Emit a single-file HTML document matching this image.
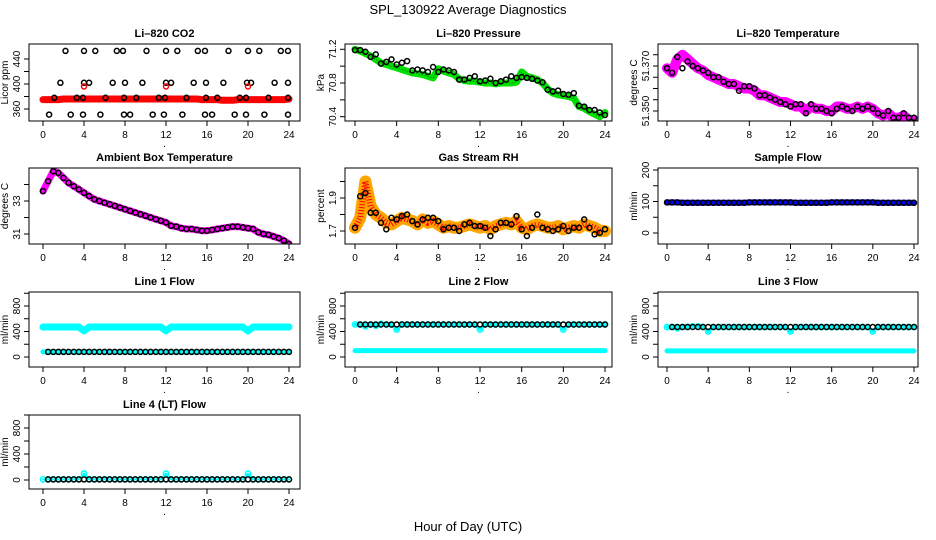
<!DOCTYPE html>
<html><head><meta charset="utf-8">
<style>
body{margin:0;background:#fff;}
svg{display:block;font-family:"Liberation Sans",sans-serif;}
.t{font-weight:bold;font-size:11px;text-anchor:middle;}
.tk{font-size:10px;text-anchor:middle;}
</style></head><body>
<svg id="c" width="936" height="540" viewBox="0 0 936 540">
<text x="468" y="14" font-size="13" text-anchor="middle">SPL_130922  Average Diagnostics</text>
<text x="468" y="531" font-size="13" text-anchor="middle">Hour of Day (UTC)</text>
</svg>
<script>
// shared half-hour time grid
const hours=[0,0.5,1,1.5,2,2.5,3,3.5,4,4.5,5,5.5,6,6.5,7,7.5,8,8.5,9,9.5,10,10.5,11,11.5,12,12.5,13,13.5,14,14.5,15,15.5,16,16.5,17,17.5,18,18.5,19,19.5,20,20.5,21,21.5,22,22.5,23,23.5,24];
const xTicks=[0,4,8,12,16,20,24];
// CO2
const co2Band=[375,375,375,375,376,376,376,376,376,376,376,376,376,376,376,376,376,376,376,376,376,376,376,376,376,376,376,376,376,376,376,375,375,375,375,374,374,374,375,375,375,375,375,375,375,375,375,375,376];
const co2BlackT=[2.2,4,5.1,7.2,7.8,10.1,12,13.1,15.1,15.8,18.1,20,21.1,23.2,23.9,1.7,4,4.5,6.8,8,9.7,12,12.5,14.7,15.9,17.6,19.9,20.3,22.6,23.9,1.1,3.3,3.9,6.1,7.9,9.1,11.3,11.9,14,15.9,17,19.2,19.8,22,23.9,0.6,2.7,3.9,5.6,7.9,8.5,10.7,11.8,13.6,15.8,16.5,18.7,19.8,21.6,23.9];
const co2BlackV=[453,453,453,453,453,453,453,453,453,453,453,453,453,453,453,402,402,402,402,402,402,402,402,402,402,402,402,402,402,402,378,378,378,378,378,378,378,378,378,378,378,378,378,378,378,351,351,351,351,351,351,351,351,351,351,351,351,351,351,351];
const co2RedT=[4,12,20];
const co2RedV=[396,396,396];
// Pressure
const presBand=[71.2,71.18,71.15,71.12,71.08,71.04,71.02,71.0,70.98,70.96,70.94,70.92,70.91,70.9,70.88,70.86,70.97,70.94,70.92,70.9,70.85,70.83,70.82,70.82,70.81,70.8,70.8,70.79,70.8,70.8,70.8,70.81,70.93,70.88,70.86,70.84,70.8,70.73,70.68,70.66,70.65,70.64,70.62,70.52,70.5,70.46,70.43,70.4,70.45];
const presBlack=[71.19,71.19,71.17,71.11,71.14,71.03,71.05,71.08,71.02,71.04,71.06,70.95,70.96,70.95,70.93,70.99,70.93,70.96,70.95,70.93,70.84,70.84,70.86,70.88,70.82,70.83,70.85,70.8,70.82,70.84,70.88,70.86,70.87,70.86,70.85,70.83,70.81,70.72,70.7,70.71,70.67,70.66,70.68,70.53,70.52,70.48,70.48,70.45,70.42];
// Li-820 temperature
const tempBand=[51.369,51.367,51.373,51.375,51.373,51.371,51.369,51.368,51.366,51.365,51.364,51.363,51.362,51.362,51.361,51.36,51.36,51.359,51.357,51.357,51.356,51.355,51.354,51.354,51.353,51.352,51.352,51.35,51.352,51.351,51.351,51.35,51.35,51.352,51.352,51.351,51.351,51.352,51.351,51.352,51.351,51.349,51.348,51.349,51.347,51.347,51.348,51.346,51.346];
const tempBlack=[51.369,51.367,51.374,51.369,51.372,51.370,51.369,51.368,51.367,51.365,51.365,51.363,51.362,51.362,51.359,51.361,51.361,51.360,51.357,51.357,51.356,51.355,51.354,51.353,51.352,51.353,51.353,51.349,51.353,51.351,51.351,51.350,51.349,51.351,51.352,51.351,51.350,51.352,51.351,51.352,51.351,51.349,51.348,51.350,51.347,51.347,51.349,51.347,51.347];
// Ambient
const ambBand=[33.6,34.2,34.8,34.7,34.4,34.1,33.9,33.7,33.5,33.3,33.1,33.0,32.9,32.8,32.7,32.6,32.5,32.4,32.3,32.2,32.1,32.0,31.9,31.8,31.7,31.5,31.45,31.35,31.3,31.3,31.25,31.2,31.2,31.25,31.3,31.35,31.4,31.45,31.45,31.4,31.35,31.3,31.1,31.0,30.95,30.85,30.75,30.6,30.4];
// RH
const rhBand=[1.72,1.78,2.0,1.85,1.8,1.78,1.75,1.74,1.76,1.78,1.77,1.76,1.74,1.77,1.75,1.76,1.74,1.72,1.73,1.72,1.72,1.73,1.74,1.73,1.72,1.73,1.71,1.73,1.74,1.75,1.74,1.76,1.72,1.71,1.73,1.74,1.73,1.72,1.72,1.73,1.71,1.72,1.73,1.72,1.74,1.73,1.72,1.7,1.7];
const rhBlack=[1.72,1.91,1.93,1.81,1.81,1.75,1.71,1.78,1.77,1.79,1.80,1.76,1.74,1.77,1.78,1.78,1.76,1.71,1.72,1.72,1.70,1.74,1.75,1.73,1.73,1.72,1.67,1.71,1.75,1.75,1.74,1.79,1.71,1.67,1.72,1.80,1.72,1.71,1.70,1.71,1.73,1.70,1.72,1.72,1.77,1.72,1.68,1.69,1.71];
// flows
const sampleBand=[97,97,97,96,96,96,96,96,96,96,96,96,96,96,96,96,97,97,97,97,97,97,97,97,97,96,96,96,96,96,96,96,97,97,97,97,97,97,97,97,97,96,96,96,96,96,96,96,96];
const line1Hi=[470,470,470,470,470,470,470,470,410,470,470,470,470,470,470,470,470,470,470,470,470,470,470,470,410,470,470,470,470,470,470,470,470,470,470,470,470,470,470,470,410,470,470,470,470,470,470,470,470];
const line1Lo=[80,80,80,80,80,80,80,80,80,80,80,80,80,80,80,80,80,80,80,80,80,80,80,80,80,80,80,80,80,80,80,80,80,80,80,80,80,80,80,80,80,80,80,80,80,80,80,80,80];
const line2Hi=[510,510,480,510,490,520,510,510,430,510,510,510,510,510,510,510,510,510,510,510,510,510,510,510,430,510,510,510,510,510,510,510,510,510,510,510,510,510,510,510,430,510,510,510,510,510,510,510,510];
const line2Lo=[100,100,100,100,100,100,100,100,100,100,100,100,100,100,100,100,100,100,100,100,100,100,100,100,100,100,100,100,100,100,100,100,100,100,100,100,100,100,100,100,100,100,100,100,100,100,100,100,100];
const line3Hi=[470,470,450,470,470,480,480,470,400,470,470,470,470,470,470,470,470,470,470,470,470,470,470,470,400,470,470,470,470,470,470,470,470,470,470,470,470,470,470,470,400,470,470,470,470,470,470,470,470];
const line3Lo=[95,95,95,95,95,95,95,95,95,95,95,95,95,95,95,95,95,95,95,95,95,95,95,95,95,95,95,95,95,95,95,95,95,95,95,95,95,95,95,95,95,95,95,95,95,95,95,95,95];
const line4Band=[10,10,10,10,10,10,10,10,100,10,10,10,10,10,10,10,10,10,10,10,10,10,10,10,100,10,10,10,10,10,10,10,10,10,10,10,10,10,10,10,100,10,10,10,10,10,10,10,10];
const line4Black=[10,10,10,10,10,10,10,10,10,10,10,10,10,10,10,10,10,10,10,10,10,10,10,10,10,10,10,10,10,10,10,10,10,10,10,10,10,10,10,10,10,10,10,10,10,10,10,10,10];

const NS='http://www.w3.org/2000/svg';
const svg=document.getElementById('c');
function mk(tag,at,parent){const e=document.createElementNS(NS,tag);for(const k in at)e.setAttribute(k,at[k]);(parent||svg).appendChild(e);return e;}
const cols=[{L:29,R:300,x0:43,x24:289},{L:345,R:612,x0:355,x24:605},{L:658,R:918,x0:667,x24:914}];
const rows=[{T:44,B:121},{T:168,B:244},{T:292,B:367},{T:415,B:489}];

function panel(o){
  const c=cols[o.col],r=rows[o.row];
  const g=mk('g',{});
  
  
  const xs=t=>c.x0+(c.x24-c.x0)*t/24;
  const ys=v=>o.py1+(o.py2-o.py1)*(v-o.v1)/(o.v2-o.v1);
  const cp='cp'+o.name;
  const clip=mk('clipPath',{id:cp},g);
  mk('rect',{x:c.L,y:r.T,width:c.R-c.L,height:r.B-r.T},clip);
  const pg=mk('g',{'clip-path':'url(#'+cp+')'},g);
  (o.bands||[]).forEach(b=>{
    const pts=hours.map((t,i)=>xs(t).toFixed(1)+','+ys(b.v[i]).toFixed(1)).join(' ');
    const pl=mk('polyline',{points:pts,fill:'none',stroke:b.color,'stroke-width':b.w||7,'stroke-linejoin':'round','stroke-linecap':'round'},pg);
    
    
    if(b.dot){mk('polyline',{points:pts,fill:'none',stroke:b.dot,'stroke-width':b.dw||1,'stroke-dasharray':'1 2'},pg);}
    if(b.circ){hours.forEach((t,i)=>{mk('circle',{cx:xs(t),cy:ys(b.v[i]),r:2.6,fill:'none',stroke:b.color,'stroke-width':1.6},pg);});}
  });
  (o.pts||[]).forEach(p=>{
    p.t.forEach((t,i)=>{
      const ci=mk('circle',{cx:xs(t).toFixed(1),cy:ys(p.v[i]).toFixed(1),r:2.5,fill:'none',stroke:p.color,'stroke-width':1.5},pg);
      
      
    });
  });
  mk('rect',{x:c.L,y:r.T,width:c.R-c.L,height:r.B-r.T,fill:'none',stroke:'#000','stroke-width':1},g);
  mk('line',{x1:xs(0),x2:xs(24),y1:r.B,y2:r.B,stroke:'#000'},g);
  xTicks.forEach(t=>{
    mk('line',{x1:xs(t),x2:xs(t),y1:r.B,y2:r.B+5,stroke:'#000'},g);
    const tx=mk('text',{x:xs(t),y:r.B+17,class:'tk'},g);tx.textContent=t;
    
    
  });
  mk('text',{x:(c.L+c.R)/2,y:r.B+26,class:'tk'},g).textContent='.';
  mk('line',{x1:c.L,x2:c.L,y1:ys(o.yt[0]),y2:ys(o.yt[o.yt.length-1]),stroke:'#000'},g);
  o.yt.forEach(v=>{mk('line',{x1:c.L-5,x2:c.L,y1:ys(v),y2:ys(v),stroke:'#000'},g);});
  o.yl.forEach((s,i)=>{
    const y=ys(o.ylv[i]),x=c.L-9;
    const tx=mk('text',{x:x,y:y,class:'tk',transform:'rotate(-90 '+x+' '+y+')'},g);tx.textContent=s;
    
    
  });
  const lx=c.L-21,ly=(r.T+r.B)/2;
  const yl=mk('text',{x:lx,y:ly,class:'tk',transform:'rotate(-90 '+lx+' '+ly+')'},g);yl.textContent=o.ylab;
  
  
  const ti=mk('text',{x:(c.L+c.R)/2,y:r.T-7,class:'t'},g);ti.textContent=o.title;
  
  
}
const bT=hours;
panel({name:'co2-panel',col:0,row:0,title:'Li\u2013820 CO2',ylab:'Licor ppm',v1:360,py1:109,v2:440,py2:59,yt:[360,380,400,420,440],yl:['360','400','440'],ylv:[360,400,440],
 bands:[{name:'co2-band',v:co2Band,color:'#ff0000',w:7}],pts:[{name:'co2-black',t:co2BlackT,v:co2BlackV,color:'#000'},{name:'co2-red',t:co2RedT,v:co2RedV,color:'#ff0000'}]});
panel({name:'pressure-panel',col:1,row:0,title:'Li\u2013820 Pressure',ylab:'kPa',v1:70.4,py1:116.7,v2:71.2,py2:49.3,yt:[70.4,70.6,70.8,71.0,71.2],yl:['70.4','70.8','71.2'],ylv:[70.4,70.8,71.2],
 bands:[{name:'pressure-band',v:presBand,color:'#00e000',w:7,dot:'#007000'}],pts:[{name:'pressure-black',t:bT,v:presBlack,color:'#000'}]});
panel({name:'temp-panel',col:2,row:0,title:'Li\u2013820 Temperature',ylab:'degrees C',v1:51.35,py1:111,v2:51.37,py2:66,yt:[51.35,51.355,51.36,51.365,51.37,51.375],yl:['51.350','51.370'],ylv:[51.35,51.37],
 bands:[{name:'temp-band',v:tempBand,color:'#ff00ff',w:10}],pts:[{name:'temp-black',t:bT,v:tempBlack,color:'#000'}]});
panel({name:'ambient-panel',col:0,row:1,title:'Ambient Box Temperature',ylab:'degrees C',v1:31,py1:234,v2:33,py2:201,yt:[31,32,33,34],yl:['31','33'],ylv:[31,33],
 bands:[{name:'ambient-band',v:ambBand,color:'#ff00ff',w:7}],pts:[{name:'ambient-black',t:bT,v:ambBand,color:'#000'}]});
panel({name:'rh-panel',col:1,row:1,title:'Gas Stream RH',ylab:'percent',v1:1.7,py1:231,v2:1.9,py2:198,yt:[1.7,1.8,1.9,2.0],yl:['1.7','1.9'],ylv:[1.7,1.9],
 bands:[{name:'rh-band',v:rhBand,color:'#ffa500',w:12,dot:'#ff0000',dw:6}],pts:[{name:'rh-black',t:bT,v:rhBlack,color:'#000'}]});
panel({name:'sample-flow-panel',col:2,row:1,title:'Sample Flow',ylab:'ml/min',v1:0,py1:233,v2:200,py2:170,yt:[0,50,100,150,200],yl:['0','100','200'],ylv:[0,100,200],
 bands:[{name:'sample-band',v:sampleBand,color:'#0000ff',w:6}],pts:[{name:'sample-black',t:bT,v:sampleBand,color:'#000'}]});
const fl={v1:0,v2:800,yt:[0,200,400,600,800,1000],yl:['0','400','800'],ylv:[0,400,800],ylab:'ml/min'};
panel(Object.assign({name:'line1-panel',col:0,row:2,title:'Line 1 Flow',py1:357,py2:306,
 bands:[{name:'line1-hi',v:line1Hi,color:'#00ffff',w:7},{name:'line1-lo',v:line1Lo,color:'#00ffff',w:5}],pts:[{name:'line1-black',t:bT.slice(1),v:line1Lo.slice(1),color:'#000'}]},fl));
panel(Object.assign({name:'line2-panel',col:1,row:2,title:'Line 2 Flow',py1:357,py2:306,
 bands:[{name:'line2-hi',v:line2Hi,color:'#00ffff',w:3,circ:true},{name:'line2-lo',v:line2Lo,color:'#00ffff',w:5}],pts:[{name:'line2-black',t:bT.slice(1),v:line1Hi.map(()=>510).slice(1),color:'#000'}]},fl));
panel(Object.assign({name:'line3-panel',col:2,row:2,title:'Line 3 Flow',py1:357,py2:306,
 bands:[{name:'line3-hi',v:line3Hi,color:'#00ffff',w:3,circ:true},{name:'line3-lo',v:line3Lo,color:'#00ffff',w:5}],pts:[{name:'line3-black',t:bT.slice(1),v:line3Hi.map(()=>470).slice(1),color:'#000'}]},fl));
panel(Object.assign({name:'line4-panel',col:0,row:3,title:'Line 4 (LT) Flow',py1:480,py2:428,
 bands:[{name:'line4-band',v:line4Band,color:'#00ffff',w:2,circ:true}],pts:[{name:'line4-black',t:bT.slice(1),v:line4Black.slice(1),color:'#000'}]},fl));
</script>
</body></html>
